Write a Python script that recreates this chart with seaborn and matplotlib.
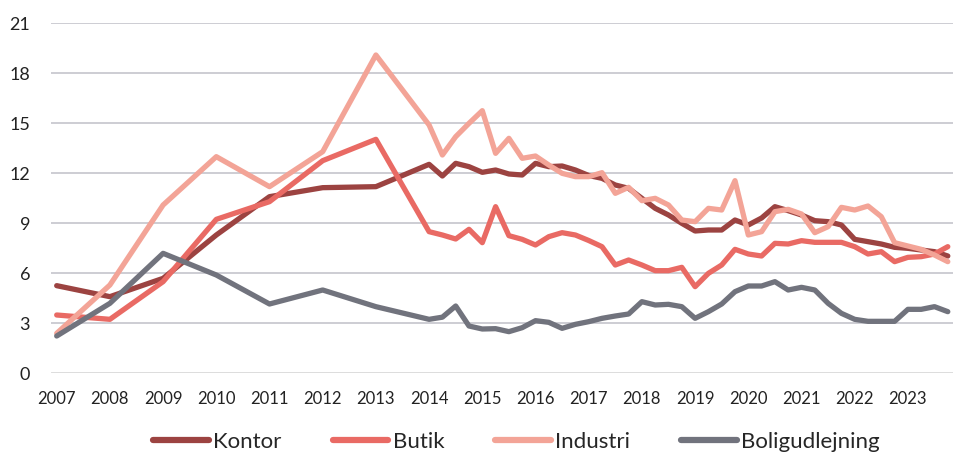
import matplotlib
matplotlib.use("Agg")
import matplotlib.pyplot as plt
import numpy as np
import pandas as pd
import seaborn as sns

# periods: annual 2007-2013, quarterly from 2014
years_annual = [2007, 2008, 2009, 2010, 2011, 2012, 2013]
years_quarterly = [y + q / 4 for y in range(2014, 2024) for q in range(4)]
periods = years_annual + years_quarterly

kontor = [5.24, 4.58, 5.68, 8.28, 10.58, 11.12, 11.18,
          12.52, 11.82, 12.58, 12.38, 12.04, 12.18, 11.94, 11.88, 12.58, 12.38, 12.42, 12.18, 11.85,
          11.68, 11.28, 11.08, 10.48, 9.88, 9.48, 8.98, 8.52, 8.58, 8.58, 9.18, 8.88, 9.3,
          9.98, 9.74, 9.48, 9.14, 9.08, 8.88, 8.02, 7.88, 7.74, 7.54, 7.48, 7.38, 7.28, 7.02]
butik = [3.48, 3.22, 5.48, 9.22, 10.28, 12.74, 14.02,
         8.48, 8.28, 8.04, 8.62, 7.82, 9.98, 8.24, 8.02, 7.68, 8.18, 8.42, 8.28, 7.95,
         7.58, 6.48, 6.78, 6.48, 6.14, 6.14, 6.34, 5.18, 5.98, 6.48, 7.42, 7.14, 7.02,
         7.78, 7.74, 7.94, 7.84, 7.84, 7.84, 7.58, 7.14, 7.28, 6.68, 6.94, 6.98, 7.14, 7.58]
industri = [2.38, 5.28, 10.08, 12.98, 11.18, 13.28, 19.08,
            14.88, 13.08, 14.18, 14.98, 15.74, 13.18, 14.08, 12.88, 13.02, 12.48, 11.98, 11.78, 11.78,
            12.02, 10.78, 11.14, 10.34, 10.48, 10.08, 9.18, 9.08, 9.88, 9.78, 11.54, 8.28, 8.48,
            9.68, 9.82, 9.54, 8.42, 8.78, 9.94, 9.78, 10.02, 9.38, 7.82, 7.62, 7.42, 7.08, 6.68]
bolig = [2.22, 4.18, 7.18, 5.88, 4.14, 4.98, 3.98,
         3.22, 3.35, 4.02, 2.82, 2.64, 2.66, 2.48, 2.72, 3.14, 3.04, 2.68, 2.92, 3.08,
         3.28, 3.42, 3.54, 4.28, 4.08, 4.12, 3.98, 3.28, 3.68, 4.14, 4.88, 5.22, 5.22,
         5.48, 4.98, 5.14, 4.98, 4.18, 3.58, 3.22, 3.1, 3.1, 3.1, 3.82, 3.82, 3.98, 3.68]

series_names = ["Kontor", "Butik", "Industri", "Boligudlejning"]
colors = ["#9c4341", "#e96a64", "#f3a497", "#71737d"]
x_ticks = list(range(2007, 2024))
y_ticks = [0, 3, 6, 9, 12, 15, 18, 21]

df = pd.DataFrame({"periode": periods, "Kontor": kontor, "Butik": butik,
                   "Industri": industri, "Boligudlejning": bolig})
long = df.melt(id_vars="periode", var_name="serie", value_name="afkast")

sns.set_style("white")
plt.rcParams['font.family'] = ['Lato', 'DejaVu Sans']

fig = plt.figure(figsize=(9.54, 4.54), dpi=100)
ax = fig.add_axes([51 / 954, 1 - 373 / 454, 1 - 51 / 954, 350 / 454])

sns.lineplot(data=long, x="periode", y="afkast", hue="serie", hue_order=series_names,
             palette=colors, linewidth=3.8, ax=ax, legend=False,
             solid_joinstyle="round", solid_capstyle="round")

ax.set_xlim(2007 - 5.7 / 53.2, 2007 + (954 - 56.7) / 53.2)
ax.set_ylim(0, 21)
ax.set_yticks(y_ticks)
ax.set_xticks(x_ticks)
ax.set_xticklabels([str(y) for y in x_ticks])
ax.tick_params(axis="y", length=0, pad=15, labelsize=13, labelcolor="#222222")
ax.tick_params(axis="x", length=0, pad=13, labelsize=12, labelcolor="#222222")
ax.set_xlabel("")
ax.set_ylabel("")
for s in ax.spines.values():
    s.set_visible(False)

# horizontal gridlines
for v in y_ticks[1:]:
    ax.axhline(v, color="#c5c5cc", linewidth=1.2, zorder=0)
ax.axhline(0, color="#d9d9d9", linewidth=2.0, zorder=0)

handles = [plt.Line2D([], [], color=c, linewidth=4.5, solid_capstyle="round") for c in colors]
fig.legend(handles, series_names, loc="center", bbox_to_anchor=(516.5 / 954, 1 - 442 / 454),
           ncol=4, frameon=False, fontsize=16, handlelength=2.5, handletextpad=0.2,
           columnspacing=2.3)

plt.savefig("out.png", dpi=100)
